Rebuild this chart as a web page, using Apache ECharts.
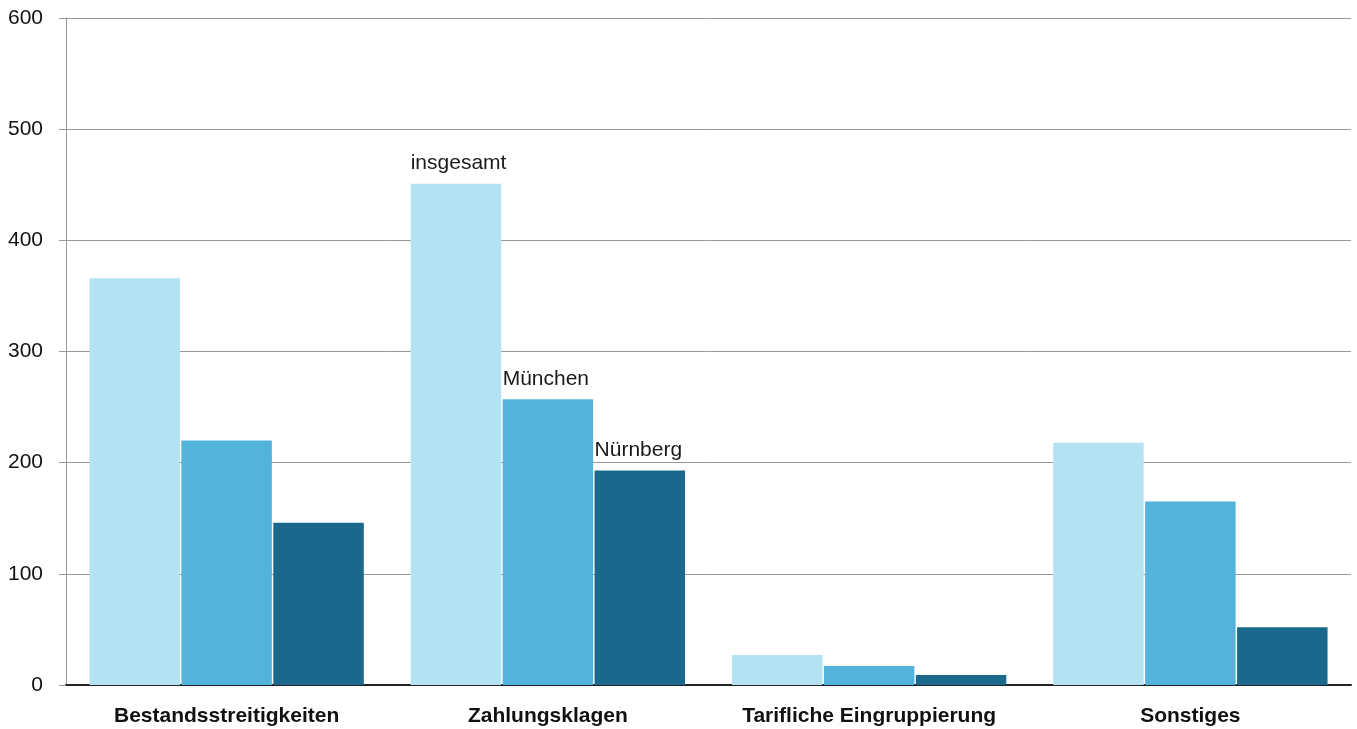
<!DOCTYPE html>
<html>
<head>
<meta charset="utf-8">
<script src="https://cdn.jsdelivr.net/npm/echarts@6/dist/echarts.min.js"></script>
<style>
  html, body { margin: 0; padding: 0; background: #fff; }
  #chart { width: 1357px; height: 729px; }
</style>
</head>
<body>
<div id="chart"></div>
<script>
// Kategorien und Werte
const categories = ["Bestandsstreitigkeiten", "Zahlungsklagen", "Tarifliche Eingruppierung", "Sonstiges"];
const insgesamt = [366, 451, 27, 218];
const muenchen = [220, 257, 17, 165];
const nuernberg = [146, 193, 9, 52];
const yTicks = [0, 100, 200, 300, 400, 500, 600];

const font = "'Liberation Sans', Arial, sans-serif";

// Beschriftung nur an der Zahlungsklagen-Gruppe
function withLabel(values, name) {
  return values.map(function (v, i) {
    if (i !== 1) return v;
    return {
      value: v,
      label: {
        show: true,
        formatter: name,
        position: [0, -10],
        align: "left",
        verticalAlign: "bottom",
        fontFamily: font,
        fontSize: 21,
        color: "#1a1a1a"
      }
    };
  });
}

const chart = echarts.init(document.getElementById("chart"));
chart.setOption({
  animation: false,
  grid: { left: 66, right: 6, top: 18, bottom: 44 },
  xAxis: {
    type: "category",
    data: categories,
    axisLine: { lineStyle: { color: "#222", width: 2 } },
    axisTick: {
      show: true,
      length: 6,
      interval: function (i) { return i === categories.length; },
      lineStyle: { color: "#999" }
    },
    axisLabel: {
      interval: 0,
      fontFamily: font,
      fontSize: 21,
      fontWeight: "bold",
      color: "#111",
      margin: 21
    }
  },
  yAxis: {
    type: "value",
    min: yTicks[0],
    max: yTicks[yTicks.length - 1],
    interval: 100,
    axisLine: { show: true, lineStyle: { color: "#999", width: 1 } },
    axisTick: { show: true, length: 7, lineStyle: { color: "#999" } },
    splitLine: { lineStyle: { color: "#999", width: 1 } },
    axisLabel: {
      fontFamily: font,
      fontSize: 21,
      color: "#111",
      margin: 23
    }
  },
  series: [
    {
      name: "insgesamt",
      type: "bar",
      data: withLabel(insgesamt, "insgesamt"),
      itemStyle: { color: "#b3e2f2" },
      barGap: "1.6%",
      barCategoryGap: "14.6%"
    },
    {
      name: "München",
      type: "bar",
      data: withLabel(muenchen, "München"),
      itemStyle: { color: "#54b3da" }
    },
    {
      name: "Nürnberg",
      type: "bar",
      data: withLabel(nuernberg, "Nürnberg"),
      itemStyle: { color: "#1a698c" }
    }
  ]
});
</script>
</body>
</html>
